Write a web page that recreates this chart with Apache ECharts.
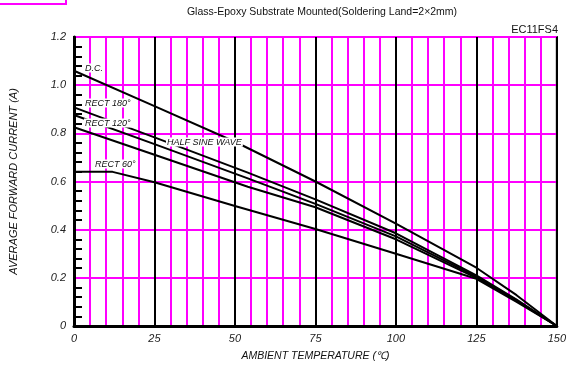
<!DOCTYPE html>
<html>
<head>
<meta charset="utf-8">
<script src="https://cdn.jsdelivr.net/npm/echarts@6/dist/echarts.min.js"></script>
<style>
  html, body { margin: 0; padding: 0; background: #fff; }
  #chart { width: 569px; height: 370px; }
</style>
</head>
<body>
<div id="chart"></div>
<script>
// Derating curves: ambient temperature (°C) vs average forward current (A)
const xTicks = [0, 25, 50, 75, 100, 125, 150];
const yTicks = [0, 0.2, 0.4, 0.6, 0.8, 1.0, 1.2];

const dcCurve       = [[0, 1.06], [25, 0.913], [50, 0.765], [75, 0.60], [100, 0.425], [125, 0.242], [137.5, 0.128], [150, 0]];
const rect180Curve  = [[0, 0.908], [25, 0.783], [54, 0.637], [75, 0.526], [100, 0.385], [125, 0.21], [137.5, 0.11], [150, 0]];
const halfSineCurve = [[0, 0.876], [25, 0.755], [54, 0.613], [75, 0.507], [100, 0.372], [125, 0.205], [137.5, 0.107], [150, 0]];
const rect120Curve  = [[0, 0.825], [25, 0.711], [54, 0.578], [75, 0.493], [100, 0.36], [125, 0.2], [137.5, 0.104], [150, 0]];
const rect60Curve   = [[0, 0.64], [12, 0.64], [25, 0.597], [50, 0.498], [75, 0.403], [100, 0.30], [125, 0.196], [137.5, 0.1], [150, 0]];

const curves = [
  { name: 'D.C.', data: dcCurve },
  { name: 'RECT 180°', data: rect180Curve },
  { name: 'HALF SINE WAVE', data: halfSineCurve },
  { name: 'RECT 120°', data: rect120Curve },
  { name: 'RECT 60°', data: rect60Curve }
];

const curveLabels = [
  { text: 'D.C.', x: 84, y: 68 },
  { text: 'RECT 180°', x: 84, y: 103 },
  { text: 'RECT 120°', x: 84, y: 123 },
  { text: 'HALF SINE WAVE', x: 166, y: 142 },
  { text: 'RECT 60°', x: 94, y: 164 }
];

const FONT = '"Liberation Sans", Arial, sans-serif';
const MAGENTA = '#ff00ff';

const chart = echarts.init(document.getElementById('chart'), null, { renderer: 'canvas' });

chart.setOption({
  animation: false,
  backgroundColor: '#fff',
  title: [
    {
      text: 'Glass-Epoxy Substrate Mounted(Soldering Land=2×2mm)',
      left: 317, top: 2, textAlign: 'center',
      textStyle: { fontFamily: FONT, fontSize: 10.5, fontWeight: 'normal', color: '#111' }
    },
    {
      text: 'EC11FS4',
      right: 6, top: 19,
      textStyle: { fontFamily: FONT, fontSize: 11, fontWeight: 'normal', color: '#111' }
    }
  ],
  grid: {
    left: 74, right: 10, top: 37, bottom: 44,
    show: true, borderColor: '#000', borderWidth: 2, backgroundColor: 'transparent'
  },
  xAxis: {
    type: 'value', min: xTicks[0], max: xTicks[xTicks.length - 1], interval: 25,
    splitNumber: 5,
    name: 'AMBIENT TEMPERATURE (℃)', nameLocation: 'middle', nameGap: 25,
    nameTextStyle: { fontFamily: FONT, fontSize: 10.5, fontStyle: 'italic', color: '#111' },
    axisLine: { show: true, lineStyle: { color: '#000', width: 3 } },
    axisTick: { show: false },
    minorTick: { show: false, splitNumber: 5 },
    axisLabel: {
      fontFamily: FONT, fontSize: 11, fontStyle: 'italic', color: '#222', margin: 7,
      formatter: v => (xTicks.includes(v) ? String(v) : '')
    },
    splitLine: { show: true, lineStyle: { color: '#000', width: 2 } },
    minorSplitLine: { show: true, lineStyle: { color: MAGENTA, width: 2 } }
  },
  yAxis: {
    type: 'value', min: yTicks[0], max: yTicks[yTicks.length - 1], interval: 0.2,
    name: 'AVERAGE FORWARD CURRENT (A)', nameLocation: 'middle', nameGap: 55,
    nameTextStyle: { fontFamily: FONT, fontSize: 11, fontStyle: 'italic', color: '#111' },
    axisLine: { show: true, lineStyle: { color: '#000', width: 3 } },
    axisTick: { show: false, inside: true },
    minorTick: { show: true, splitNumber: 5, length: 8, lineStyle: { color: '#000', width: 2 } },
    axisLabel: {
      fontFamily: FONT, fontSize: 11, fontStyle: 'italic', color: '#222', margin: 8,
      formatter: v => (Math.abs(v) < 1e-9 ? '0' : v.toFixed(1))
    },
    splitLine: { show: true, lineStyle: { color: MAGENTA, width: 2 } },
    minorSplitLine: { show: false }
  },
  graphic: [
    {
      type: 'rect', z: 5,
      shape: { x: -5, y: -10, width: 71, height: 14 },
      style: { fill: 'none', stroke: MAGENTA, lineWidth: 2 }
    }
  ].concat(curveLabels.map(l => ({
    type: 'text', z: 10, x: l.x, y: l.y,
    style: {
      text: l.text, font: 'italic 9px ' + FONT, fill: '#111',
      verticalAlign: 'middle', backgroundColor: '#fff', padding: [0, 1]
    }
  }))),
  series: curves.map(c => ({
    name: c.name, type: 'line', data: c.data, z: 3,
    showSymbol: false, symbol: 'none', smooth: false,
    lineStyle: { color: '#000', width: 2 }
  }))
});
</script>
</body>
</html>
